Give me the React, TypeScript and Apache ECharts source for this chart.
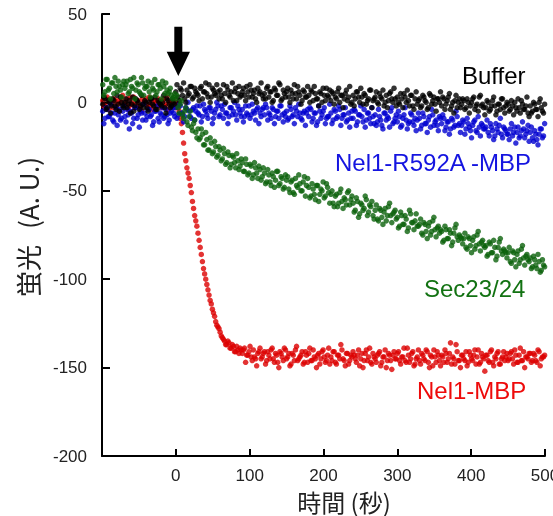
import { useEffect, useRef } from "react";
import * as echarts from "echarts";

// sampling grid: readings every 3 s from -99 s (run A) and from -97.5 s (run B)
const T_START_A = -99;
const T_START_B = -97.5;
const T_STEP = 3;

// Buffer (black)
const bufferA = [
  -1, 2, -3, 0, -2, 1, -4, -1, 3, -2, 0, -3, 1, -1, -5, 2, 0, -2, -1, 1, -3, 0, 2, -2, -4, 1, -1, 0, -3, 2, -1, -2, 0,
  6, 3, 8, 4, 2, 7, 5, 9, 3, 6,
  4, 8, 2, 6, 5, 10, 3, 7, 4, 6,
  7, 2, 5, 9, 4, 6, 1, 8, 5, 3,
  6, 4, 9, 3, 7, 5, 2, 8, 6, 4,
  5, 8, 3, 6, 1, 7, 4, 10, 2, 5,
  6, 3, 7, 2, 5, 9, 4, 1, 6, 3,
  4, 7, 1, 5, 2, 6, 0, 4, 8, 3,
  1, 5, 3, 6, 0, 4, 2, 7, 3, -1,
  4, 2, 6, 0, 3, 5, -1, 2, 7, 1,
  3, 0, 5, 2, -2, 4, 1, 6, 0, 2,
  3, -1, 2, 5, 0, 1, 4, -2, 2, -1,
  2, -2, 3, 0, -3, 4, 1, -1, 2, 0,
  -2, 2, -1, 3, -4, 0, 1, -3, 2, -1,
  1, -3, 0, -2, 2, -4, -1, 3, -2, -3,
  -3, 0, -4, 1, -2, -5, -1, 2, -3, -2,
  -1, -4, -2, 0, -5, -3, 1, -4, -2, -6,
  -2, -5, -1, -4, 0, -3, -6,
];
const bufferB = [
  3, -4, 1, -6, 2, -2, 4, -5, 0, -3, 2, -1, -6, 3, -2, 1, -4, 4, -3, 0, -5, 2, -1, 3, -4, 0, -2, 4, -6, 1, -3, 2, -1,
  10, 1, 7, 11, 0, 4, 9, 2, 8, 5,
  1, 9, 6, 11, 3, 0, 8, 5, 10, 2,
  4, 10, 0, 7, 3, 11, 6, 1, 9, 4,
  8, 1, 6, 10, 3, 7, 0, 5, 11, 2,
  2, 9, 6, 0, 8, 4, 11, 1, 7, 3,
  8, 0, 5, 10, 2, 6, -1, 7, 3, 9,
  0, 6, 9, 2, -2, 5, 8, 1, 4, 7,
  6, -1, 2, 8, 4, -3, 5, 1, 9, 0,
  -2, 6, 3, 8, -1, 4, 1, 7, -3, 2,
  6, -1, 3, 7, 0, -3, 5, 2, 8, -2,
  0, 5, -3, 3, 7, -2, 4, -4, 6, 1,
  -3, 4, 1, -4, 5, -1, 3, -5, 2, 6,
  3, -4, 1, 5, -2, -6, 4, 0, -3, 2,
  -4, 2, -6, 0, 3, -2, -5, 4, -1, -7,
  1, -5, -2, 3, -7, -1, -4, 2, -6, 0,
  -5, 1, -7, -3, 2, -6, -1, -4, 3, -8,
  -6, 0, -4, -8, 2, -5, -1,
];

// Nel1-R592A -MBP (blue)
const r592aA = [
  -5, -9, -4, -8, -6, -11, -3, -7, -10, -5, -8, -4, -15, -6, -9, -3, -7, -5, -10, -6, -8, -4, -7, -11, -5, -9, -6, -3, -8, -7, -10, -5, -6,
  -3, -7, -2, -6, -8, -4, -5, -9, -3, -5,
  -6, -2, -8, -4, -7, -3, -5, -9, -4, -2,
  -7, -4, -1, -6, -8, -3, -5, -7, -2, -6,
  -4, -8, -6, -2, -7, -5, -10, -3, -6, -4,
  -7, -3, -6, -9, -4, -8, -5, -2, -7, -6,
  -5, -9, -4, -7, -3, -8, -6, -10, -5, -6,
  -8, -4, -9, -6, -11, -5, -7, -3, -9, -8,
  -6, -10, -5, -8, -4, -9, -7, -11, -6, -9,
  -9, -5, -11, -7, -8, -4, -10, -6, -12, -8,
  -7, -11, -8, -13, -6, -10, -9, -5, -12, -9,
  -11, -8, -13, -7, -10, -12, -6, -11, -9, -10,
  -9, -13, -8, -12, -10, -14, -7, -11, -13, -8,
  -12, -9, -14, -11, -15, -10, -13, -8, -12, -13,
  -11, -15, -12, -16, -13, -10, -17, -14, -12, -15,
  -14, -17, -12, -16, -19, -15, -13, -18, -14, -16,
  -18, -15, -19, -14, -17, -20, -16, -15, -18, -13,
  -17, -20, -16, -21, -18, -15, -19,
];
const r592aB = [
  -12, -3, -8, -1, -10, -6, -13, -4, -9, -2, -11, -7, -5, -12, -3, -9, -14, -6, -1, -10, -4, -8, -13, -5, -2, -11, -7, -9, -4, -12, -6, -3, -8,
  -9, -1, -6, -11, -3, 0, -8, -4, -10, -2,
  -7, -11, -1, -5, -9, -3, -12, -6, 0, -8,
  -2, -9, -6, -12, -3, -7, 0, -10, -4, -8,
  -11, -2, -7, -9, -1, -6, -4, -12, -8, -3,
  -1, -10, -7, -3, -12, -5, -9, -2, -11, -8,
  -10, -2, -8, -12, -5, -1, -9, -6, -13, -4,
  -3, -11, -6, -13, -2, -9, -5, -12, -8, -1,
  -12, -4, -9, -2, -13, -7, -3, -10, -14, -5,
  -4, -13, -7, -2, -11, -14, -6, -9, -3, -12,
  -13, -4, -10, -15, -6, -8, -14, -3, -11, -7,
  -5, -14, -9, -3, -15, -11, -7, -13, -16, -6,
  -15, -6, -12, -17, -8, -4, -13, -10, -16, -9,
  -7, -16, -11, -18, -9, -14, -5, -13, -17, -10,
  -18, -9, -14, -20, -11, -16, -8, -19, -13, -15,
  -10, -19, -14, -21, -12, -17, -9, -20, -15, -18,
  -21, -12, -17, -23, -14, -19, -11, -20, -16, -22,
  -14, -22, -18, -24, -15, -20, -12,
];

// Sec23/24 (green)
const sec2324A = [
  10, 6, 13, 8, 11, 5, 9, 12, 7, 10,
  8, 12, 6, 9, 14, 7, 10, 5, 11, 8,
  9, 6, 11, 7, 4, 10, 8, 12, 5, 7,
  6, 4, 3,
  2, -3, -1, -7, -5, -11, -8, -14, -12, -17,
  -15, -20, -18, -24, -21, -27, -23, -28, -25, -30,
  -27, -32, -29, -34, -30, -35, -31, -37, -33, -36,
  -34, -39, -35, -40, -36, -41, -37, -43, -38, -42,
  -40, -45, -41, -47, -42, -44, -39, -46, -43, -48,
  -44, -49, -45, -51, -43, -48, -46, -50, -42, -47,
  -48, -53, -49, -55, -47, -52, -50, -54, -46, -51,
  -52, -57, -53, -59, -51, -56, -54, -58, -50, -55,
  -57, -61, -56, -63, -58, -60, -55, -62, -59, -64,
  -61, -66, -60, -65, -62, -67, -59, -64, -63, -61,
  -65, -70, -64, -69, -66, -71, -63, -68, -67, -70,
  -69, -74, -68, -73, -70, -75, -67, -72, -71, -74,
  -73, -78, -72, -77, -74, -79, -71, -76, -75, -77,
  -77, -82, -76, -81, -78, -83, -75, -80, -79, -81,
  -81, -86, -80, -85, -82, -87, -79, -84, -83, -85,
  -85, -90, -84, -89, -86, -91, -83, -88, -87, -89,
  -88, -93, -89, -94, -90, -95, -92,
];
const sec2324B = [
  4, 13, 7, 2, 11, 14, 6, 9, 3, 12,
  10, 5, 13, 8, 2, 11, 6, 14, 4, 9,
  12, 3, 8, 13, 6, 10, 2, 9, 11, 5,
  8, 2, 5,
  4, -6, 1, -9, -3, -13, -5, -16, -10, -20,
  -21, -15, -24, -17, -27, -20, -29, -22, -31, -25,
  -33, -26, -35, -28, -37, -30, -34, -29, -38, -32,
  -39, -32, -41, -35, -43, -34, -40, -36, -44, -37,
  -46, -38, -45, -40, -48, -39, -47, -42, -49, -41,
  -42, -51, -44, -52, -47, -41, -50, -45, -53, -43,
  -54, -46, -52, -47, -56, -49, -45, -53, -48, -57,
  -50, -59, -52, -57, -49, -60, -55, -51, -58, -53,
  -62, -54, -65, -57, -61, -53, -64, -58, -56, -66,
  -58, -67, -61, -69, -60, -64, -57, -68, -62, -66,
  -71, -62, -69, -64, -73, -61, -68, -72, -63, -70,
  -66, -75, -69, -77, -68, -73, -65, -76, -70, -72,
  -79, -70, -77, -72, -81, -74, -69, -78, -76, -80,
  -74, -83, -77, -85, -76, -81, -73, -84, -78, -82,
  -87, -79, -85, -78, -89, -82, -77, -86, -84, -88,
  -82, -91, -85, -93, -84, -89, -81, -92, -86, -90,
  -94, -87, -92, -86, -96, -89, -93,
];

// Nel1-MBP (red)
const nel1A = [
  1, -2, 3, 0, -1, 2, -3, 1, 0, 4, -1, 2, -2, 0, 3, -1, 1, -3, 2, 0, -1, 3, 1, -2, 0, 2, -1, 1, -2, 3, 0, -1, 1,
  0, -3, -9, -17, -29, -37, -43, -51, -60, -67,
  -74, -82, -90, -97, -103, -109, -114, -119, -124, -127,
  -130, -133, -135, -137, -136, -139, -138, -141, -140, -139,
  -142, -139, -143, -141, -144, -140, -145, -142, -139, -144,
  -141, -146, -143, -140, -145, -142, -147, -141, -144, -139,
  -145, -142, -148, -143, -140, -146, -144, -141, -147, -143,
  -142, -146, -140, -145, -143, -148, -141, -144, -146, -139,
  -144, -141, -147, -143, -145, -140, -146, -142, -148, -143,
  -141, -145, -143, -149, -142, -146, -140, -144, -147, -142,
  -145, -143, -141, -147, -144, -150, -142, -146, -143, -145,
  -142, -146, -144, -139, -147, -143, -145, -141, -148, -144,
  -146, -142, -145, -140, -147, -143, -149, -144, -141, -146,
  -143, -147, -142, -145, -136, -144, -148, -141, -146, -143,
  -145, -141, -147, -143, -146, -140, -144, -148, -142, -145,
  -143, -146, -141, -147, -144, -142, -148, -145, -141, -144,
  -146, -142, -145, -140, -147, -143, -146, -141, -144, -145,
  -142, -146, -143, -147, -141, -145, -144,
];
const nel1B = [
  -2, 2, -4, 0, -3, 1, -1, -5, 2, -2, 0, -4, 3, -1, -3, 1, -2, -5, 0, 2, -3, -1, -4, 1, -2, 0, -3, 2, -1, -4, 0, -2, -3,
  -1, -5, -12, -23, -33, -40, -47, -56, -64, -70,
  -78, -86, -94, -100, -106, -112, -117, -121, -126, -128,
  -132, -134, -137, -135, -139, -137, -141, -138, -142, -140,
  -140, -147, -143, -138, -146, -144, -149, -141, -145, -142,
  -148, -141, -145, -139, -147, -143, -150, -142, -146, -140,
  -144, -149, -142, -146, -138, -145, -143, -148, -141, -147,
  -139, -146, -144, -150, -142, -145, -140, -147, -143, -148,
  -146, -141, -148, -143, -137, -145, -149, -142, -146, -144,
  -143, -147, -140, -145, -150, -142, -146, -139, -148, -144,
  -147, -142, -149, -144, -140, -146, -143, -151, -141, -145,
  -141, -148, -144, -146, -139, -147, -142, -149, -145, -140,
  -148, -143, -146, -141, -150, -144, -140, -147, -143, -149,
  -144, -140, -147, -142, -148, -145, -137, -146, -150, -143,
  -146, -149, -141, -145, -143, -148, -140, -147, -144, -152,
  -143, -147, -140, -149, -145, -141, -148, -144, -146, -142,
  -145, -141, -148, -143, -147, -139, -146, -150, -144, -142,
  -147, -142, -146, -140, -149, -144, -143,
];

const seriesNames = ["Nel1-MBP", "Nel1-R592A -MBP", "Buffer", "Sec23/24"];
const seriesColors = ["#dc0000", "#0000d0", "#000000", "#0b620b"];
const seriesRuns = [
  [nel1A, nel1B],
  [r592aA, r592aB],
  [bufferA, bufferB],
  [sec2324A, sec2324B],
];

const X_MIN = -100;
const X_MAX = 500;
const X_INTERVAL = 100;
const Y_MIN = -200;
const Y_MAX = 50;
const Y_INTERVAL = 50;

const xTitle = "時間 (秒)";
const yTitleMain = "蛍光";
const yTitleUnit = "(A. U.)";

const LATIN = '"Liberation Sans", Arial, sans-serif';
const CJK = '"Noto Sans CJK JP", "Noto Sans", sans-serif';

const toPairs = (vals: number[], t0: number) => vals.map((v, i) => [t0 + i * T_STEP, v]);

export default function App() {
  const ref = useRef<HTMLDivElement>(null);
  useEffect(() => {
    if (!ref.current) return;
    const chart = echarts.init(ref.current, null, { renderer: "svg" });
    const axisLine = { show: true, onZero: false, lineStyle: { color: "#000", width: 2 } };
    chart.setOption({
      animation: false,
      grid: { left: 102, right: 8, top: 14, bottom: 60, outerBoundsMode: "none", containLabel: false },
      xAxis: {
        type: "value",
        min: X_MIN,
        max: X_MAX,
        interval: X_INTERVAL,
        axisLine,
        axisTick: { show: true, inside: true, length: 7, lineStyle: { color: "#000", width: 2 } },
        axisLabel: {
          formatter: (v: number) => (v < 0 ? "" : String(v)),
          fontSize: 17,
          lineHeight: 17,
          color: "#222",
          fontFamily: LATIN,
          margin: 11,
        },
        splitLine: { show: false },
      },
      yAxis: {
        type: "value",
        min: Y_MIN,
        max: Y_MAX,
        interval: Y_INTERVAL,
        axisLine,
        axisTick: { show: true, inside: true, length: 8, lineStyle: { color: "#000", width: 2 } },
        axisLabel: { fontSize: 17, color: "#222", fontFamily: LATIN, margin: 15 },
        splitLine: { show: false },
      },
      series: seriesRuns.map((runs, k) => ({
        type: "scatter",
        name: seriesNames[k],
        data: [...toPairs(runs[0], T_START_A), ...toPairs(runs[1], T_START_B)],
        symbol: "circle",
        symbolSize: 5.5,
        itemStyle: { color: seriesColors[k] },
        silent: true,
      })),
      graphic: [
        {
          type: "polygon",
          shape: {
            points: [
              [174.3, 26.7],
              [182.3, 26.7],
              [182.3, 51.7],
              [190, 51.7],
              [178.3, 76],
              [166.7, 51.7],
              [174.3, 51.7],
            ],
          },
          style: { fill: "#000" },
        },
        { type: "text", x: 462, y: 75, style: { text: "Buffer", fill: "#000", fontSize: 24, fontFamily: LATIN, verticalAlign: "middle" } },
        { type: "text", x: 335, y: 162, style: { text: "Nel1-R592A -MBP", fill: "#1414e0", fontSize: 24, fontFamily: LATIN, verticalAlign: "middle" } },
        { type: "text", x: 424, y: 288, style: { text: "Sec23/24", fill: "#127212", fontSize: 24, fontFamily: LATIN, verticalAlign: "middle" } },
        { type: "text", x: 417, y: 390, style: { text: "Nel1-MBP", fill: "#ee0a0a", fontSize: 24, fontFamily: LATIN, verticalAlign: "middle" } },
        { type: "text", x: 344, y: 501, style: { text: xTitle, fill: "#222", fontSize: 24, lineHeight: 24, fontFamily: CJK, align: "center", verticalAlign: "middle" } },
        { type: "text", x: 27.5, y: 271, rotation: Math.PI / 2, style: { text: yTitleMain, fill: "#222", fontSize: 26, fontFamily: CJK, align: "center", verticalAlign: "middle" } },
        { type: "text", x: 27.5, y: 193, rotation: Math.PI / 2, style: { text: yTitleUnit, fill: "#222", fontSize: 26, fontFamily: CJK, align: "center", verticalAlign: "middle" } },
      ],
    });
    return () => chart.dispose();
  }, []);
  return <div ref={ref} style={{ position: "fixed", left: 0, top: 0, width: 553, height: 516 }} />;
}
